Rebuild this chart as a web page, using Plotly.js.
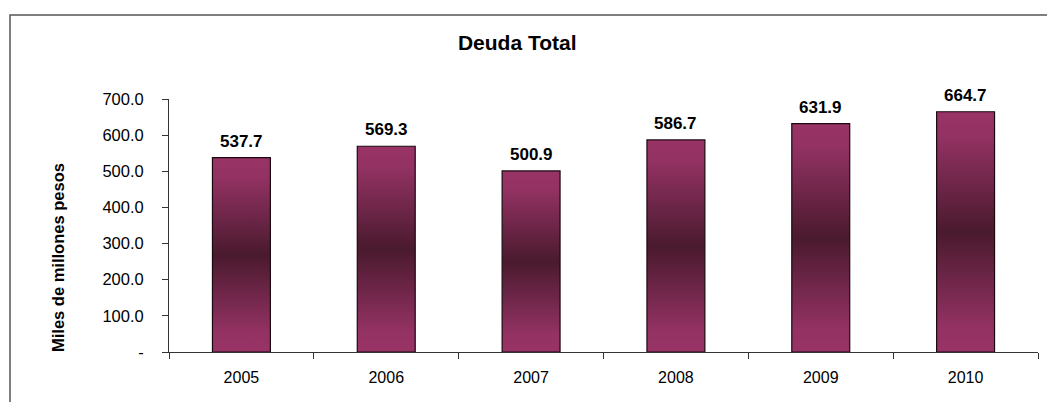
<!DOCTYPE html>
<html>
<head>
<meta charset="utf-8">
<script src="https://cdn.plot.ly/plotly-3.0.1.min.js"></script>
<style>
html,body{margin:0;padding:0;background:#fff;}
#chart{width:1047px;height:402px;}
</style>
</head>
<body>
<div id="chart"></div>
<script>
const years = ['2005', '2006', '2007', '2008', '2009', '2010'];
const deuda = [537.7, 569.3, 500.9, 586.7, 631.9, 664.7];
const yTickVals = [0, 100, 200, 300, 400, 500, 600, 700];
const yTickText = ['-', '100.0', '200.0', '300.0', '400.0', '500.0', '600.0', '700.0'];
const chartTitle = 'Deuda Total';
const yTitle = 'Miles de millones pesos';

const FONT = 'Liberation Sans, Arial, sans-serif';

const trace = {
  type: 'bar',
  x: years,
  y: deuda,
  marker: { color: '#993366', line: { color: '#1a0a10', width: 1.2 } },
  hoverinfo: 'x+y'
};

const annotations = deuda.map((v, i) => ({
  x: i, y: v, xref: 'x', yref: 'y',
  text: '<b>' + v.toFixed(1) + '</b>',
  showarrow: false, xanchor: 'center', yanchor: 'bottom', yshift: 5,
  font: { family: FONT, size: 17, color: '#000' }
}));

annotations.push({
  xref: 'paper', yref: 'paper',
  x: (58 - 169) / 869, y: (352 - 257) / 253,
  xanchor: 'center', yanchor: 'middle',
  text: '<b>' + yTitle + '</b>', textangle: -90,
  showarrow: false,
  font: { family: FONT, size: 16.5, color: '#000' }
});

const layout = {
  width: 1047, height: 402,
  margin: { l: 169, r: 9, t: 99, b: 50, pad: 0 },
  paper_bgcolor: '#fff', plot_bgcolor: '#fff',
  showlegend: false,
  bargap: 0.6,
  font: { family: FONT, color: '#000' },
  title: {
    text: '<b>' + chartTitle + '</b>',
    font: { family: FONT, size: 21, color: '#000' },
    xref: 'container', yref: 'container',
    x: 0.494, xanchor: 'center', y: 1 - 43 / 402, yanchor: 'middle'
  },
  xaxis: {
    type: 'category',
    range: [-0.5, 5.5],
    showline: true, linecolor: '#333', linewidth: 1,
    ticks: 'outside', ticklen: 6, tickcolor: '#333', tickwidth: 1,
    tickson: 'boundaries',
    showgrid: false, zeroline: false,
    tickfont: { family: FONT, size: 16, color: '#000' },
    ticklabelstandoff: 11,
    fixedrange: true
  },
  yaxis: {
    range: [0, 700],
    tickvals: yTickVals, ticktext: yTickText,
    showline: true, linecolor: '#333', linewidth: 1,
    ticks: 'outside', ticklen: 6, tickcolor: '#333', tickwidth: 1,
    showgrid: false, zeroline: false,
    tickfont: { family: FONT, size: 16.5, color: '#000' },
    ticklabelstandoff: 15,
    fixedrange: true
  },
  annotations: annotations,
  shapes: [{
    type: 'path', xref: 'paper', yref: 'paper',
    path: 'M ' + ((10 - 169) / 869) + ' ' + ((352 - 410) / 253) +
          ' L ' + ((10 - 169) / 869) + ' ' + ((352 - 15) / 253) +
          ' L ' + ((1060 - 169) / 869) + ' ' + ((352 - 15) / 253),
    line: { color: '#555', width: 1.5 },
    layer: 'below'
  }]
};

function applyGradient(gd) {
  const svg = gd.querySelector('svg.main-svg');
  if (!svg) return;
  let defs = svg.querySelector('defs');
  if (!defs) {
    defs = document.createElementNS('http://www.w3.org/2000/svg', 'defs');
    svg.insertBefore(defs, svg.firstChild);
  }
  if (!defs.querySelector('#barGrad')) {
    const g = document.createElementNS('http://www.w3.org/2000/svg', 'linearGradient');
    g.setAttribute('id', 'barGrad');
    g.setAttribute('x1', '0'); g.setAttribute('y1', '0');
    g.setAttribute('x2', '0'); g.setAttribute('y2', '1');
    [['0%', '#993366'], ['10%', '#933263'], ['50%', '#4a1a2e'], ['90%', '#933263'], ['100%', '#993366']].forEach(([o, c]) => {
      const s = document.createElementNS('http://www.w3.org/2000/svg', 'stop');
      s.setAttribute('offset', o); s.setAttribute('stop-color', c);
      g.appendChild(s);
    });
    defs.appendChild(g);
  }
  gd.querySelectorAll('.barlayer .point path').forEach(p => {
    p.style.fill = 'url(#barGrad)';
  });
}

const gd = document.getElementById('chart');
Plotly.newPlot(gd, [trace], layout, { displayModeBar: false }).then(() => {
  applyGradient(gd);
  gd.on('plotly_afterplot', () => applyGradient(gd));
});
</script>
</body>
</html>
